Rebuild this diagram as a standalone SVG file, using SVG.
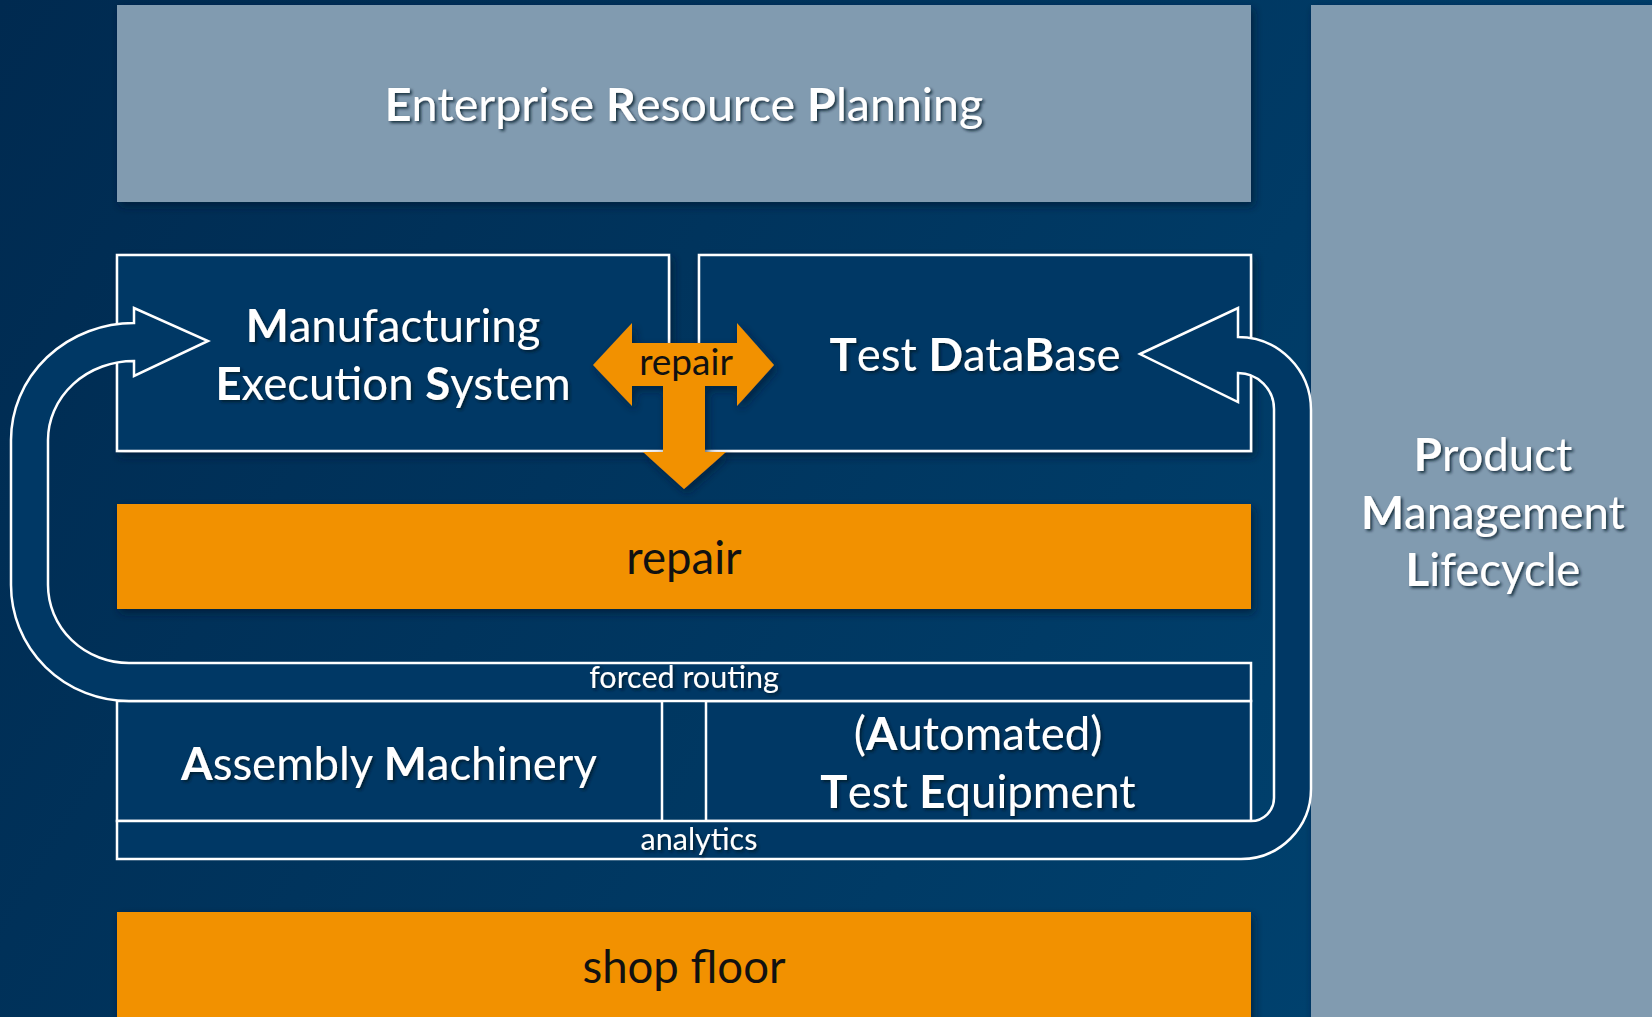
<svg xmlns="http://www.w3.org/2000/svg" width="1652" height="1017" viewBox="0 0 1652 1017">
<defs>
<linearGradient id="bg" x1="0" y1="0" x2="1652" y2="1017" gradientUnits="userSpaceOnUse">
<stop offset="0" stop-color="#002a50"/>
<stop offset="1" stop-color="#004573"/>
</linearGradient>
<filter id="sh" x="-5%" y="-5%" width="110%" height="120%">
<feDropShadow dx="3" dy="4" stdDeviation="4" flood-color="#001a33" flood-opacity="0.7"/>
</filter>
<filter id="tsh" x="-5%" y="-20%" width="110%" height="140%">
<feDropShadow dx="2" dy="2" stdDeviation="1.5" flood-color="#001426" flood-opacity="0.8"/>
</filter>
<style>
.grey{fill:#819bb0}
.orange{fill:#f29100}
.box{fill:#003865;stroke:#ffffff;stroke-width:2.5}
.arrow{fill:#003865;stroke:#ffffff;stroke-width:2.5;stroke-linejoin:miter}
text{font-family:Lato,"Liberation Sans",sans-serif;text-anchor:middle}
.w{fill:#ffffff;filter:url(#tsh)}
.k{fill:#111111}
.big{font-size:45.5px}
.small{font-size:30.5px}
.b{font-weight:bold}
</style>
</defs>
<rect x="0" y="0" width="1652" height="1017" fill="url(#bg)"/>

<g id="erp">
<rect class="grey" x="117" y="5" width="1134" height="197" filter="url(#sh)"/>
<text class="w big" x="684" y="121" style="font-size:46.5px"><tspan class="b">E</tspan>nterprise <tspan class="b">R</tspan>esource <tspan class="b">P</tspan>lanning</text>
</g>

<g id="pml">
<rect class="grey" x="1311" y="5" width="345" height="1020" filter="url(#sh)"/>
<text class="w big" x="1493" y="471"><tspan class="b">P</tspan>roduct</text>
<text class="w big" x="1493" y="529"><tspan class="b">M</tspan>anagement</text>
<text class="w big" x="1493" y="586"><tspan class="b">L</tspan>ifecycle</text>
</g>

<g id="mes">
<rect class="box" x="117" y="255" width="552" height="196" filter="url(#sh)"/>
<text class="w big" x="393" y="342"><tspan class="b">M</tspan>anufacturing</text>
<text class="w big" x="393" y="400"><tspan class="b">E</tspan>xecution <tspan class="b">S</tspan>ystem</text>
</g>

<g id="tdb">
<rect class="box" x="699" y="255" width="552" height="196" filter="url(#sh)"/>
<text class="w big" x="975" y="371"><tspan class="b">T</tspan>est <tspan class="b">D</tspan>ata<tspan class="b">B</tspan>ase</text>
</g>

<g id="repair-bar">
<rect class="orange" x="117" y="504" width="1134" height="105" filter="url(#sh)"/>
<text class="k big" x="684" y="574">repair</text>
</g>

<g id="assembly">
<rect class="box" x="117" y="701" width="545" height="120"/>
<text class="w big" x="389" y="780"><tspan class="b">A</tspan>ssembly <tspan class="b">M</tspan>achinery</text>
</g>

<g id="ate">
<rect class="box" x="706" y="701" width="545" height="120"/>
<text class="w big" x="978" y="750">(<tspan class="b">A</tspan>utomated)</text>
<text class="w big" x="978" y="808"><tspan class="b">T</tspan>est <tspan class="b">E</tspan>quipment</text>
</g>

<g id="shop-floor">
<rect class="orange" x="117" y="912" width="1134" height="110" filter="url(#sh)"/>
<text class="k big" x="684" y="983">shop floor</text>
</g>

<g id="connectors">
<g id="forced-routing">
<path class="arrow" d="M134,323 A123,117 0 0 0 11,440 L11,585 A118,116 0 0 0 129,701 L1251,701 L1251,663 L129,663 A81,78 0 0 1 48,585 L48,440 A86,79 0 0 1 134,361 L134,376 L208,341 L134,308 Z"/>
<text class="w small" x="684" y="688">forced routing</text>
</g>
<g id="analytics">
<path class="arrow" d="M1140,354 L1238,308 L1238,337 A73,73 0 0 1 1311,410 L1311,789 A70,70 0 0 1 1241,859 L117,859 L117,821 L1251,821 A23,23 0 0 0 1274,798 L1274,409 A36,36 0 0 0 1238,373 L1238,402 Z"/>
<text class="w small" x="699" y="850">analytics</text>
</g>
<g id="repair-arrow">
<path class="orange" filter="url(#sh)" d="M593,365 L632,323 L632,343 L737,343 L737,323 L774,365 L737,406 L737,386 L705,386 L705,452 L726,452 L684,489 L643,452 L663,452 L663,386 L632,386 L632,406 Z"/>
<text class="k" x="686" y="375" style="font-size:37px">repair</text>
</g>
</g>
</svg>
